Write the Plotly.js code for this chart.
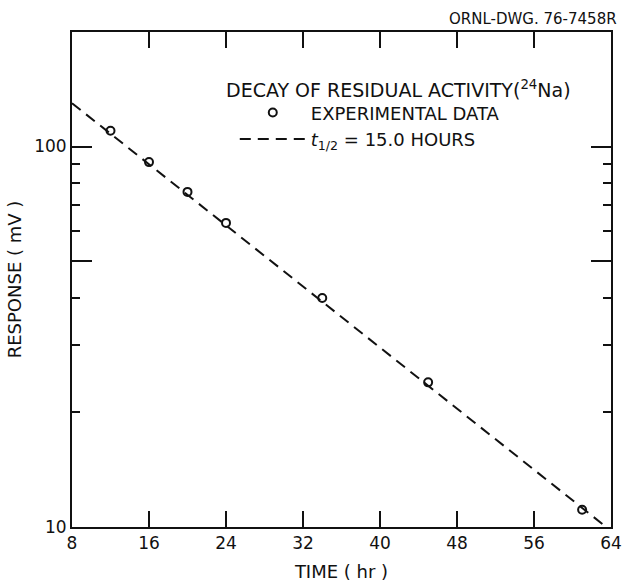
<!DOCTYPE html>
<html>
<head>
<meta charset="utf-8">
<script src="https://cdn.plot.ly/plotly-3.0.1.min.js"></script>
<style>
html,body{margin:0;padding:0;background:#fff;}
#chart{width:625px;height:583px;}
</style>
</head>
<body>
<div id="chart"></div>
<script>
var timeHr = [12, 16, 20, 24, 34, 45, 61];
var responseMv = [110, 91, 76, 63, 40, 24, 11.1];
// Fitted decay line (t1/2 = 15.0 h), end points
var fitTimeHr = [8, 63.5];
var fitResponseMv = [130, 10];
// Axis ticks
var xTicks = [8, 16, 24, 32, 40, 48, 56, 64];
var yMajorTicks = [10, 50, 100];
var yMajorText = ['10', '', '100'];
var yMinorTicks = [20, 30, 40, 60, 70, 80, 90];

var FONT = 'DejaVu Sans, sans-serif';
var INK = '#111111';

var traces = [
  {
    x: timeHr, y: responseMv, mode: 'markers', type: 'scatter',
    name: 'EXPERIMENTAL DATA',
    marker: {symbol: 'circle-open', size: 8, color: INK, line: {width: 2, color: INK}},
    cliponaxis: false
  },
  {
    x: fitTimeHr, y: fitResponseMv, mode: 'lines', type: 'scatter',
    name: '<i>t</i><sub>1/2</sub> = 15.0 HOURS',
    line: {color: INK, width: 2, dash: '11px,7px'}
  }
];

var layout = {
  width: 625, height: 583,
  margin: {l: 72, r: 14, t: 32, b: 56},
  paper_bgcolor: '#fff', plot_bgcolor: '#fff',
  font: {family: FONT, size: 17, color: INK},
  showlegend: true,
  legend: {
    x: 0.302, xanchor: 'left', y: 0.874, yanchor: 'top',
    bgcolor: 'rgba(0,0,0,0)', borderwidth: 0,
    font: {family: FONT, size: 18, color: INK},
    tracegroupgap: 0, itemwidth: 66
  },
  xaxis: {
    range: [8, 64], tickmode: 'array', tickvals: xTicks,
    ticks: 'inside', ticklen: 16, tickwidth: 2, tickcolor: INK,
    showline: true, linewidth: 2, linecolor: INK, mirror: 'ticks',
    showgrid: false, zeroline: false,
    tickfont: {family: FONT, size: 17, color: INK},
    title: {text: 'TIME ( hr )', font: {family: FONT, size: 18, color: INK}, standoff: 13}
  },
  yaxis: {
    type: 'log', range: [1, Math.log10(200)],
    tickmode: 'array', tickvals: yMajorTicks, ticktext: yMajorText,
    ticks: 'inside', ticklen: 20, tickwidth: 2, tickcolor: INK,
    minor: {tickmode: 'array', tickvals: yMinorTicks, ticks: 'inside', ticklen: 8, tickwidth: 2, tickcolor: INK, showgrid: false},
    showline: true, linewidth: 2, linecolor: INK, mirror: 'ticks',
    showgrid: false, zeroline: false,
    tickfont: {family: FONT, size: 17, color: INK},
    title: {text: 'RESPONSE ( mV )', font: {family: FONT, size: 18, color: INK}, standoff: 8}
  },
  annotations: [
    {text: 'DECAY OF RESIDUAL ACTIVITY(<sup>24</sup>Na)', xref: 'paper', yref: 'paper',
     x: 0.605, y: 0.885, xanchor: 'center', yanchor: 'middle', showarrow: false,
     font: {family: FONT, size: 19, color: INK}},
    {text: 'ORNL-DWG. 76-7458R', xref: 'paper', yref: 'paper', x: 1.015, y: 1.026,
     xanchor: 'right', yanchor: 'middle', showarrow: false,
     font: {family: FONT, size: 15, color: INK}}
  ]
};

Plotly.newPlot('chart', traces, layout, {staticPlot: true, displayModeBar: false});
</script>
</body>
</html>
